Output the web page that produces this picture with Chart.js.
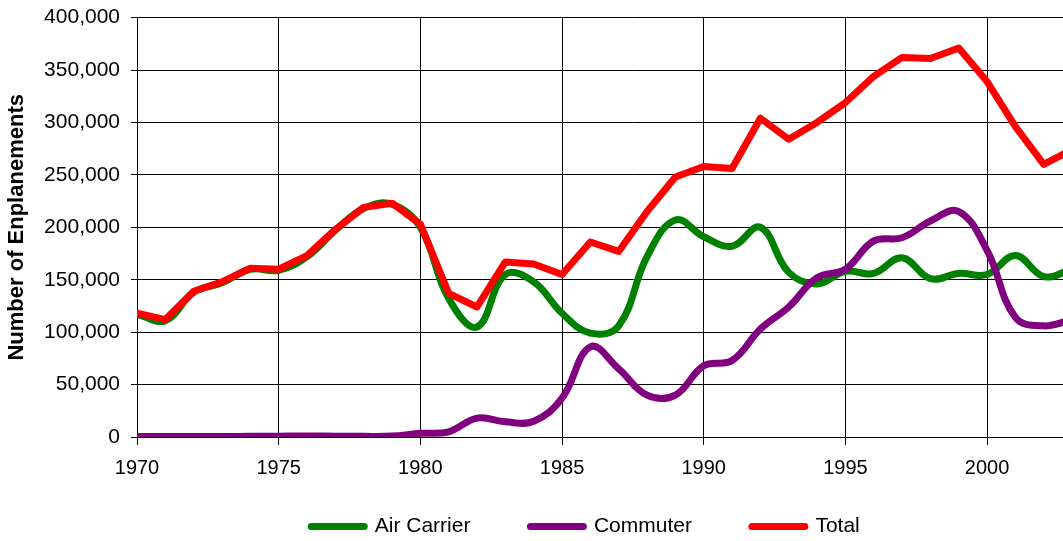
<!DOCTYPE html>
<html>
<head>
<meta charset="utf-8">
<script src="https://cdn.jsdelivr.net/npm/chart.js@4"></script>
<style>
    html, body { margin: 0; padding: 0; overflow: hidden; background: #fff; }
    #wrap { width: 1162px; height: 575px; position: absolute; left: 0; top: -6px; }
</style>
</head>
<body>
<div id="wrap"><canvas id="myChart"></canvas></div>
<script>
const years = [1970, 1971, 1972, 1973, 1974, 1975, 1976, 1977, 1978, 1979,
    1980, 1981, 1982, 1983, 1984, 1985, 1986, 1987, 1988, 1989,
    1990, 1991, 1992, 1993, 1994, 1995, 1996, 1997, 1998, 1999,
    2000, 2001, 2002, 2003];

// thousands of enplanements
const aircarrier = [117, 111, 138, 147, 160, 159, 172, 197, 218, 222,
    200, 132, 105, 155, 148, 118, 99, 106, 172, 207,
    191, 182, 200, 157, 146, 158, 156, 171, 151, 156,
    155, 173, 153, 160];
const commuter = [0.5, 0.5, 0.5, 0.5, 0.6, 0.7, 1.0, 0.8, 0.6, 0.9,
    3.5, 5, 18, 14.5, 15, 37, 86, 65, 40, 40,
    68, 73, 103, 124, 152, 160, 187, 190, 206, 215,
    178, 114, 106, 112];
const total = [118, 112, 139, 148, 161, 160, 173, 198, 219, 223,
    203, 137, 124, 167, 165, 155, 186, 177, 215, 248,
    258, 256, 304, 284, 300, 319, 344, 362, 361, 371,
    339, 296, 260, 274];

const seriesNames = ['Air Carrier', 'Commuter', 'Total'];
const seriesColors = ['#008000', '#800080', '#ff0000'];

function pts(arr) {
    return arr.map((v, i) => ({ x: years[i], y: v * 1000 }));
}

const font = "'Liberation Sans', Arial, sans-serif";

function mkset(i, tension, order) {
    return {
        label: seriesNames[i],
        data: pts([aircarrier, commuter, total][i]),
        borderColor: seriesColors[i],
        backgroundColor: seriesColors[i],
        pointBorderWidth: 7,
        tension: tension,
        order: order
    };
}

// nudge the legend row up/right after layout so the wide item spacing
// does not push the plot area up
const legendShift = {
    id: 'legendShift',
    afterLayout(chart) {
        const lg = chart.legend;
        lg.top -= 22; lg.bottom -= 22;
        lg.left += 20; lg.right += 20;
    }
};

let ctx = document.getElementById('myChart');
new Chart(ctx, {
    type: 'line',
    data: {
        datasets: [mkset(0, 0.4, 3), mkset(1, 0.4, 2), mkset(2, 0, 1)]
    },
    plugins: [legendShift],
    options: {
        maintainAspectRatio: false,
        animation: false,
        layout: {
            padding: { top: 16, right: 31, left: 0, bottom: 0 }
        },
        elements: {
            point: { radius: 0 },
            line: { borderWidth: 7, borderCapStyle: 'round', borderJoinStyle: 'round', fill: false }
        },
        scales: {
            x: {
                type: 'linear',
                min: 1970,
                max: 2005,
                afterFit: (s) => { s.height = 41; },
                ticks: {
                    stepSize: 5,
                    padding: 11,
                    color: '#000',
                    font: { family: font, size: 20 },
                    callback: (v) => String(v)
                },
                grid: { color: '#000', lineWidth: 1, tickLength: 8 },
                border: { color: '#000', width: 1 }
            },
            y: {
                min: 0,
                max: 400000,
                afterFit: (s) => { s.width = 137; },
                ticks: {
                    stepSize: 50000,
                    padding: 11,
                    color: '#000',
                    font: { family: font, size: 21 },
                    callback: (v) => v.toLocaleString('en-US')
                },
                grid: { color: '#000', lineWidth: 1, tickLength: 6 },
                border: { color: '#000', width: 1 },
                title: {
                    display: true,
                    text: 'Number of Enplanements',
                    color: '#000',
                    font: { family: font, size: 22, weight: 'bold' },
                    padding: { top: 4, bottom: 0 }
                }
            }
        },
        plugins: {
            tooltip: { enabled: false },
            legend: {
                position: 'bottom',
                labels: {
                    usePointStyle: true,
                    pointStyle: 'line',
                    pointStyleWidth: 53,
                    padding: 60,
                    color: '#000',
                    font: { family: font, size: 21 },
                    sort: (a, b) => a.datasetIndex - b.datasetIndex,
                    generateLabels: (chart) => {
                        const items = Chart.defaults.plugins.legend.labels.generateLabels(chart);
                        items.forEach((it) => { it.lineWidth = 7; it.lineCap = 'round'; });
                        return items;
                    }
                }
            }
        }
    }
});
</script>
</body>
</html>
